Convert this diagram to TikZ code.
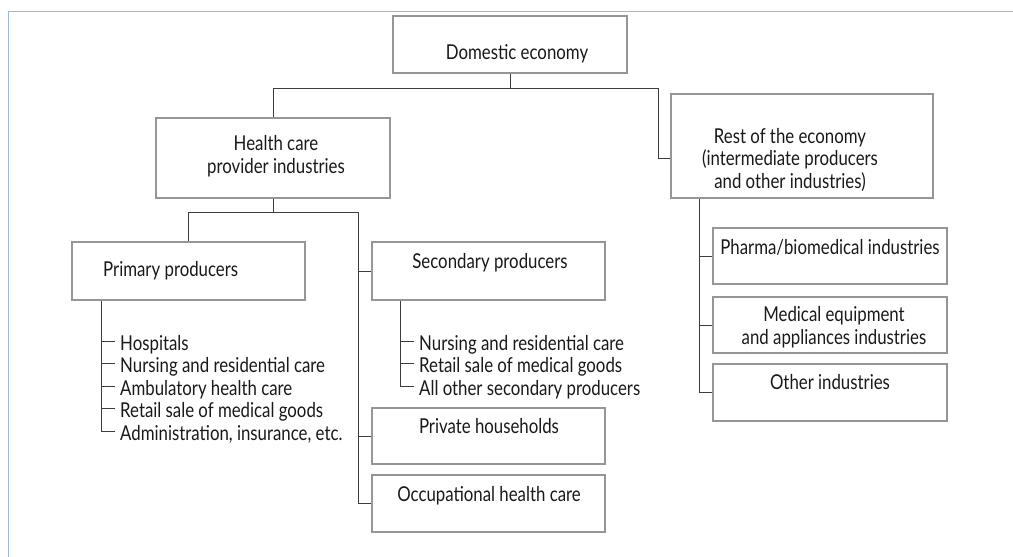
\documentclass[tikz,border=0pt]{standalone}
\usepackage{fontspec}
\setmainfont[FakeStretch=0.82]{Lato}
\definecolor{boxc}{RGB}{150,150,150}
\definecolor{linec}{RGB}{60,60,60}
\definecolor{framec}{RGB}{150,185,225}
\definecolor{txtc}{RGB}{25,25,25}
\begin{document}
\begin{tikzpicture}[x=1pt,y=-1pt,
  box/.style={draw=boxc, line width=1.1pt, inner sep=0pt},
  txt/.style={inner sep=0pt, anchor=base, text=txtc, align=center,
    font=\fontsize{20.5}{22.5}\selectfont},
  item/.style={inner sep=0pt, anchor=base west, text=txtc,
    font=\fontsize{20.5}{22.5}\selectfont},
  conn/.style={draw=linec, line width=0.9pt}]
\useasboundingbox (0,0) rectangle (1013,557);
% frame
\draw[framec, line width=0.9pt] (8.5,557) -- (8.5,11) -- (1013,11);
% boxes
\node[box, minimum width=234, minimum height=57] (dom) at (510,44.5) {};
\node[box, minimum width=234, minimum height=80] (hc) at (273,158) {};
\node[box, minimum width=262, minimum height=104] (rest) at (802,146) {};
\node[box, minimum width=233, minimum height=58] (prim) at (188.5,271) {};
\node[box, minimum width=233, minimum height=58] (sec) at (488.5,271) {};
\node[box, minimum width=233, minimum height=56] (ph) at (488.5,436) {};
\node[box, minimum width=233, minimum height=57] (occ) at (488.5,503.5) {};
\node[box, minimum width=234, minimum height=56] (pha) at (830,256) {};
\node[box, minimum width=234, minimum height=56] (med) at (830,325) {};
\node[box, minimum width=234, minimum height=57] (oth) at (830,392.5) {};
% texts (multi-line nodes: base = last line's baseline)
\node[txt] (domt) at (517,59) {Domestic economy};
\node[txt] (hct) at (276,173) {Health care\\provider industries};
\node[txt] (restt) at (790,188) {Rest of the economy\\(intermediate producers\\and other industries)};
\node[item] (primt) at (103,276) {Primary producers};
\node[txt] (sect) at (490,268) {Secondary producers};
\node[txt] (phat) at (830,254) {Pharma/biomedical industries};
\node[txt] (medt) at (834,344) {Medical equipment\\and appliances industries};
\node[txt] (otht) at (830,389) {Other industries};
\node[txt] (pht) at (489,433) {Private households};
\node[txt] (occt) at (489,501) {Occupational health care};
% lists
\node[item] (p1) at (120,350) {Hospitals};
\node[item] (p2) at (120,372.5) {Nursing and residential care};
\node[item] (p3) at (120,395) {Ambulatory health care};
\node[item] (p4) at (120,417.5) {Retail sale of medical goods};
\node[item] (p5) at (120,440) {Administration, insurance, etc.};
\node[item] (s1) at (419,350) {Nursing and residential care};
\node[item] (s2) at (419,372.5) {Retail sale of medical goods};
\node[item] (s3) at (419,395) {All other secondary producers};
% connectors
\coordinate (j1) at (dom.south |- 0,88);
\draw[conn] (dom.south) -- (j1) -| (hc.north);
\draw[conn] (j1) -| (658,158) -- (rest.west |- 0,158);
\coordinate (j2) at (hc.south |- 0,212);
\coordinate (v2) at (358,212);
\draw[conn] (hc.south) -- (j2) -| (prim.north);
\draw[conn] (j2) -- (v2) |- (occ.west);
\draw[conn] (v2 |- sec.west) -- (sec.west);
\draw[conn] (v2 |- ph.west) -- (ph.west);
\draw[conn] (rest.south -| 699,0) |- (oth.west);
\draw[conn] (pha.west -| 699,0) -- (pha.west);
\draw[conn] (med.west -| 699,0) -- (med.west);
% list trees
\foreach \n in {p1,p2,p3,p4,p5} {
  \draw[conn] ([yshift=9pt]\n.base west) ++(-5,0) -- ++(-14,0);
}
\draw[conn] (prim.south -| 101,0) -- ([yshift=9pt,xshift=-19pt]p5.base west);
\foreach \n in {s1,s2,s3} {
  \draw[conn] ([yshift=9pt]\n.base west) ++(-5,0) -- ++(-14,0);
}
\draw[conn] (sec.south -| 400,0) -- ([yshift=9pt,xshift=-19pt]s3.base west);
\end{tikzpicture}
\end{document}
